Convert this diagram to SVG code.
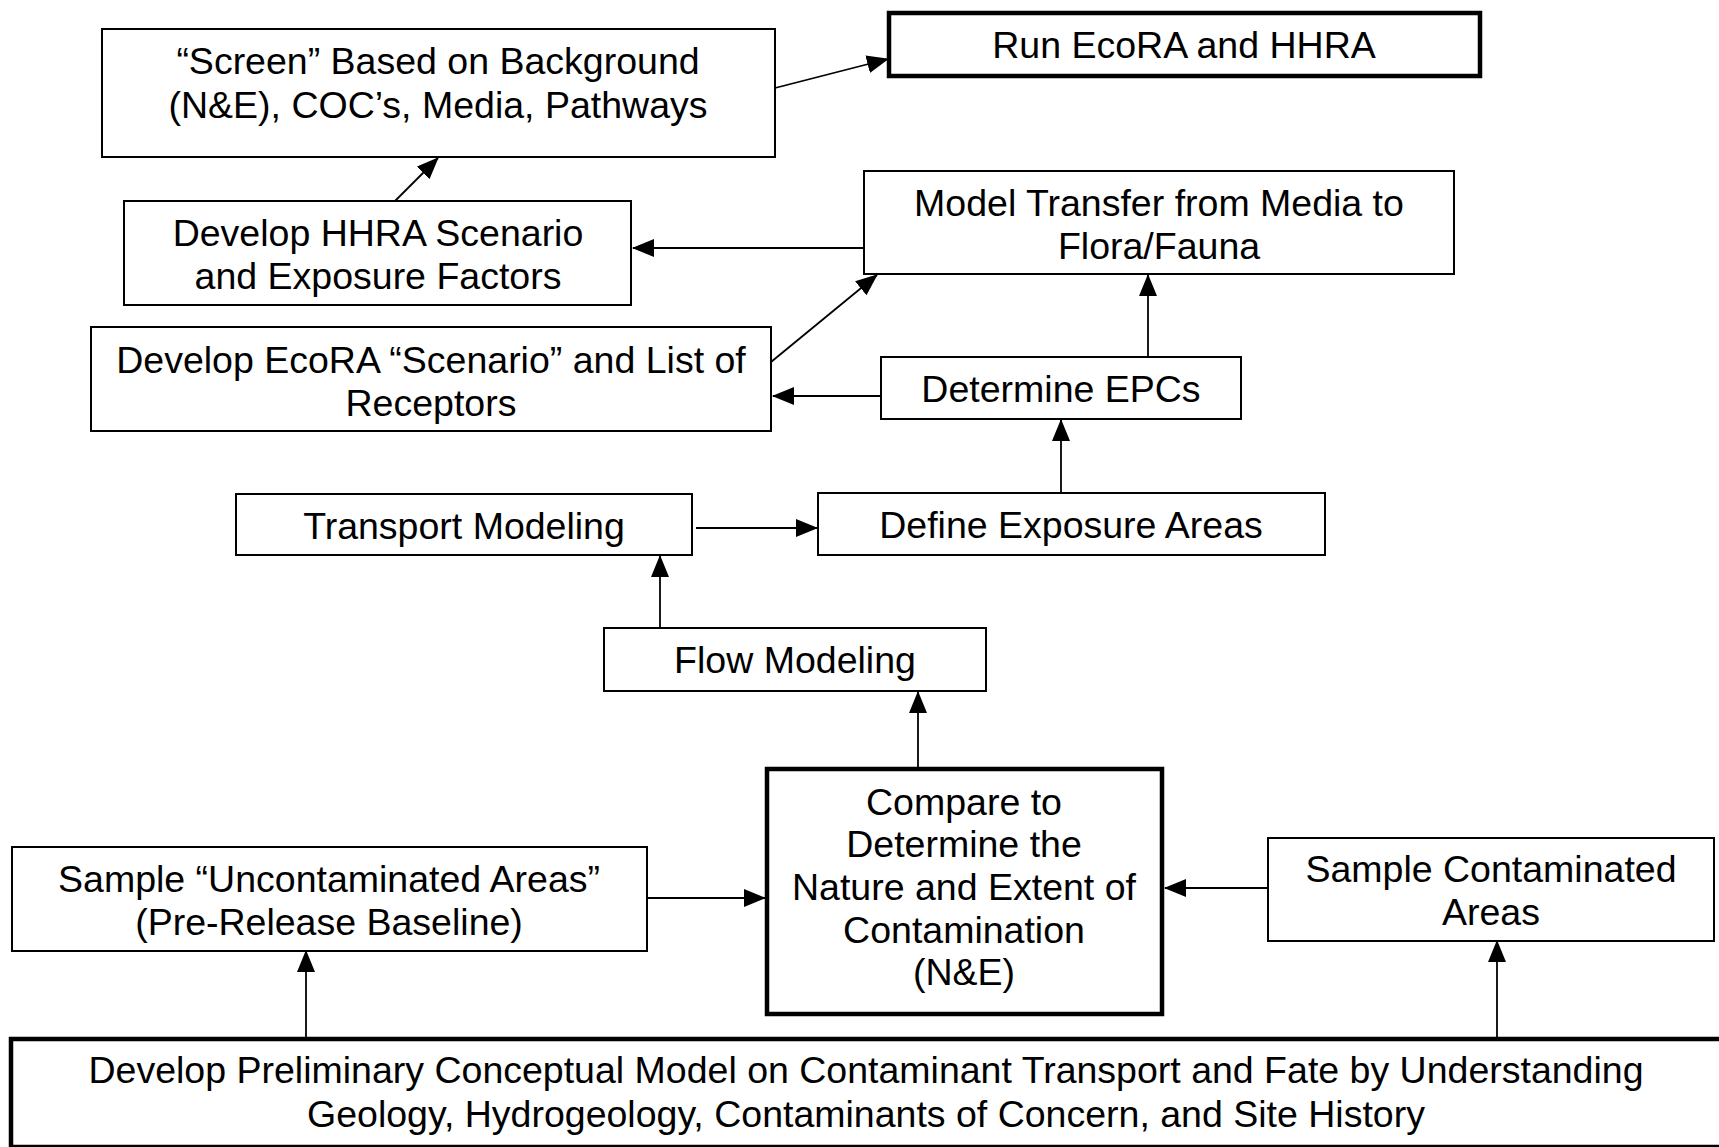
<svg xmlns="http://www.w3.org/2000/svg" width="1719" height="1147" viewBox="0 0 1719 1147">
<style>
.box{fill:#fff;stroke:#000;stroke-width:2}
.thick{fill:#fff;stroke:#000;stroke-width:4.5}
text{font-family:"Liberation Sans",Arial,sans-serif;font-size:37.5px;fill:#000;text-anchor:middle}
.c line{stroke:#000;stroke-width:1.8;marker-end:url(#ah)}
</style>
<defs>
<marker id="ah" markerUnits="userSpaceOnUse" markerWidth="22" markerHeight="18" refX="21" refY="9" orient="auto">
<path d="M0,0 L22,9 L0,18 Z" fill="#000"/>
</marker>
</defs>
<rect width="1719" height="1147" fill="#fff"/>
<g class="c" id="connectors">
<line x1="775" y1="88" x2="888" y2="59"/>
<line x1="395" y1="201" x2="438" y2="158"/>
<line x1="864" y1="248" x2="633" y2="248"/>
<line x1="771" y1="362" x2="877" y2="275"/>
<line x1="1148" y1="357" x2="1148" y2="275"/>
<line x1="881" y1="396" x2="773" y2="396"/>
<line x1="1061" y1="493" x2="1061" y2="420"/>
<line x1="696" y1="528" x2="817" y2="528"/>
<line x1="660" y1="628" x2="660" y2="556"/>
<line x1="918" y1="767" x2="918" y2="692"/>
<line x1="647" y1="898" x2="765" y2="898"/>
<line x1="1268" y1="888" x2="1165" y2="888"/>
<line x1="306" y1="1037" x2="306" y2="951"/>
<line x1="1497" y1="1037" x2="1497" y2="941"/>
</g>
<g id="screen"><rect class="box" x="102" y="29" width="673" height="128"/><text x="438" y="74">“Screen” Based on Background</text><text x="438" y="118">(N&amp;E), COC’s, Media, Pathways</text></g>
<g id="run"><rect class="thick" x="889" y="13" width="591" height="63"/><text x="1184" y="58">Run EcoRA and HHRA</text></g>
<g id="transfer"><rect class="box" x="864" y="171" width="590" height="103"/><text x="1159" y="216">Model Transfer from Media to</text><text x="1159" y="259">Flora/Fauna</text></g>
<g id="hhra"><rect class="box" x="124" y="201" width="507" height="104"/><text x="378" y="246">Develop HHRA Scenario</text><text x="378" y="289">and Exposure Factors</text></g>
<g id="ecora"><rect class="box" x="91" y="327" width="680" height="104"/><text x="431" y="373">Develop EcoRA “Scenario” and List of</text><text x="431" y="416">Receptors</text></g>
<g id="epcs"><rect class="box" x="881" y="357" width="360" height="62"/><text x="1061" y="402">Determine EPCs</text></g>
<g id="transport"><rect class="box" x="236" y="494" width="456" height="61"/><text x="464" y="539">Transport Modeling</text></g>
<g id="define"><rect class="box" x="818" y="493" width="507" height="62"/><text x="1071" y="538">Define Exposure Areas</text></g>
<g id="flow"><rect class="box" x="604" y="628" width="382" height="63"/><text x="795" y="673">Flow Modeling</text></g>
<g id="compare"><rect class="thick" x="767" y="769" width="395" height="245"/><text x="964" y="815">Compare to</text><text x="964" y="857">Determine the</text><text x="964" y="900">Nature and Extent of</text><text x="964" y="943">Contamination</text><text x="964" y="985">(N&amp;E)</text></g>
<g id="uncontam"><rect class="box" x="12" y="847" width="635" height="104"/><text x="329" y="892">Sample “Uncontaminated Areas”</text><text x="329" y="935">(Pre-Release Baseline)</text></g>
<g id="contam"><rect class="box" x="1268" y="838" width="446" height="103"/><text x="1491" y="882">Sample Contaminated</text><text x="1491" y="925">Areas</text></g>
<g id="prelim"><rect class="thick" x="11" y="1039" width="1720" height="108"/><text x="866" y="1083">Develop Preliminary Conceptual Model on Contaminant Transport and Fate by Understanding</text><text x="866" y="1127">Geology, Hydrogeology, Contaminants of Concern, and Site History</text></g>
</svg>
